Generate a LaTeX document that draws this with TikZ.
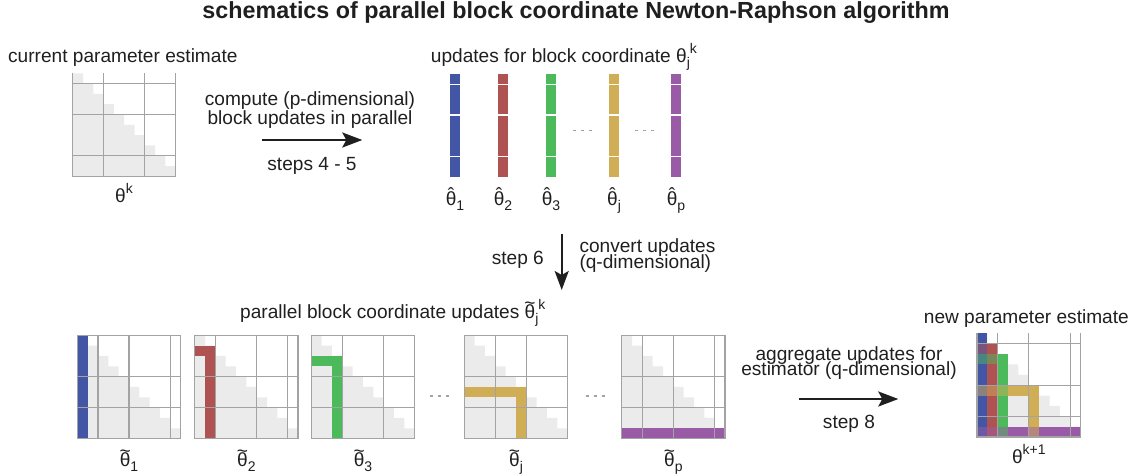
\documentclass[tikz,border=0pt]{standalone}
\usepackage{fontspec}
\setmainfont{Liberation Sans}
\usetikzlibrary{arrows.meta}

\definecolor{ink}{HTML}{1F1F1F}
\definecolor{gridc}{HTML}{A3A3A3}
\definecolor{lowc}{HTML}{EBEBEB}
\definecolor{cblue}{HTML}{4356A6}
\definecolor{cred}{HTML}{AE5252}
\definecolor{cgreen}{HTML}{4CB95B}
\definecolor{cgold}{HTML}{D0AE56}
\definecolor{cpurple}{HTML}{9A5BA6}
\colorlet{mixBR}{cblue!50!cred}
\colorlet{mixBG}{cblue!50!cgreen}
\colorlet{mixRG}{cred!50!cgreen}
\colorlet{mixBY}{cblue!50!cgold}
\colorlet{mixRY}{cred!50!cgold}
\colorlet{mixGY}{cgreen!50!cgold}
\colorlet{mixBP}{cblue!50!cpurple}
\colorlet{mixRP}{cred!50!cpurple}
\colorlet{mixGP}{cgreen!50!cpurple}
\colorlet{mixYP}{cgold!50!cpurple}

% indices and accented thetas
\newcommand\lowidx[1]{\raisebox{-5pt}{\fontsize{14}{14}\selectfont #1}}
\newcommand\upidx[1]{\raisebox{9pt}{\fontsize{14}{14}\selectfont #1}}
\newcommand\thetahat{\ooalign{θ\cr\hidewidth\raisebox{0.17em}{ˆ}\hidewidth\cr}}
\newcommand\thetatilde{\ooalign{θ\cr\hidewidth\raisebox{0.47em}{\textasciitilde}\hidewidth\cr}}
\newcommand\tightlines{\lineskiplimit=-20pt\relax}
% lower-triangular shading of a 10x10 cell matrix
\newcommand\lowertri{\fill[lowc] (0,0) \foreach \r in {1,...,10} { -| (\r,\r) } -- (0,10) -- cycle;}

\tikzset{
  gridline/.style={draw=gridc, line width=1.2pt},
  sepline/.style={draw=white, line width=1.2pt},
  lbl/.style={font=\fontsize{19.1}{21}\selectfont, text=ink, inner sep=0pt},
  flow/.style={draw=ink, line width=2.2pt, -{Stealth[length=20pt, width=15pt, inset=4pt]}},
  ellip/.style={draw=gridc, line width=1.3pt, dash pattern=on 3pt off 5pt},
  cellsys/.style={x=#1pt, y=-#1pt},
}

\begin{document}
\begin{tikzpicture}[x=1pt, y=-1pt]
\useasboundingbox (0,0) rectangle (1134,475);

% title
\node[lbl, font=\fontsize{23.3}{26}\selectfont\bfseries, anchor=base] (title) at (576,18.5)
  {schematics of parallel block coordinate Newton-Raphson algorithm};

% ---------- current estimate ----------
\node[lbl, anchor=base west] (curlbl) at (8,62.7) {current parameter estimate};
\begin{scope}[shift={(72.7,73.3)}, cellsys=10.3]
  \lowertri
  \draw[gridline] (0,0) -- (0,10) -- (10,10) -- (10,0);
  \foreach \v in {3,7} \draw[gridline] (\v,0) -- (\v,10);
  \foreach \h in {1,4,8} \draw[gridline] (0,\h) -- (10,\h);
\end{scope}
\node[lbl, anchor=base] (thk) at (124,202) {θ\upidx{k}};

% ---------- step 4-5 arrow ----------
\node[lbl, align=center, font=\fontsize{19.1}{19}\selectfont\tightlines] (computelbl) at (310,110)
  {compute (p-dimensional)\\block updates in parallel};
\coordinate (a1s) at (262.3,140);
\coordinate (a1e) at (362.3,140);
\draw[flow] (a1s) -- (a1e);
\node[lbl, anchor=base] (steps45) at (312,170) {steps 4 - 5};

% ---------- block updates ----------
\node[lbl, anchor=base west] (updlbl) at (430.7,62.7)
  {updates for block coordinate θ\lowidx{j}\upidx{k}};
\foreach \xc/\col/\idx [count=\i] in {450/cblue/1, 498/cred/2, 546/cgreen/3, 609/cgold/j, 671/cpurple/p} {
  \fill[\col] (\xc,74) rectangle (\xc+10,176.7);
  \foreach \h in {1,4,8} \draw[sepline] (\xc,74+10.27*\h) -- (\xc+10,74+10.27*\h);
  \node[lbl, anchor=base] (hat\i) at (\xc+5,205) {\thetahat\lowidx{\idx}};
}
\draw[ellip] (573,130.7) -- (593,130.7);
\draw[ellip] (635,130.7) -- (655,130.7);

% ---------- step 6 arrow ----------
\coordinate (a2s) at (561.7,234.3);
\coordinate (a2e) at (561.7,290);
\draw[flow, line width=2pt, -{Stealth[length=19pt, width=14pt, inset=4pt]}] (a2s) -- (a2e);
\node[lbl, anchor=base east] (step6) at (544,264.3) {step 6};
\node[lbl, anchor=west, align=left, font=\fontsize{19.1}{16}\selectfont\tightlines] (convlbl) at (579.3,256)
  {convert updates\\(q-dimensional)};

% ---------- block coordinate updates ----------
\node[lbl, anchor=base west] (parlbl) at (240,318)
  {parallel block coordinate updates \thetatilde\lowidx{j}\upidx{k}};

% tilde 1
\begin{scope}[shift={(77.3,335.3)}, cellsys=10.33]
  \lowertri
  \fill[cblue] (0,0) rectangle (1,10);
  \draw[gridline] (0,0) rectangle (10,10);
  \foreach \v in {2,5,9} \draw[gridline] (\v,0) -- (\v,10);
  \foreach \h in {4,7} \draw[gridline] (0,\h) -- (10,\h);
\end{scope}
% tilde 2
\begin{scope}[shift={(194.7,335.3)}, cellsys=10.33]
  \lowertri
  \fill[cred] (0,1) rectangle (2,2);
  \fill[cred] (1,1) rectangle (2,10);
  \draw[gridline] (0,0) rectangle (10,10);
  \foreach \v in {2,6,9} \draw[gridline] (\v,0) -- (\v,10);
  \foreach \h in {4,7} \draw[gridline] (0,\h) -- (10,\h);
\end{scope}
% tilde 3
\begin{scope}[shift={(311.3,335.3)}, cellsys=10.33]
  \lowertri
  \fill[cgreen] (0,2) rectangle (3,3);
  \fill[cgreen] (2,2) rectangle (3,10);
  \draw[gridline] (0,0) rectangle (10,10);
  \foreach \v in {3,7} \draw[gridline] (\v,0) -- (\v,10);
  \foreach \h in {4,7} \draw[gridline] (0,\h) -- (10,\h);
\end{scope}
% tilde j
\begin{scope}[shift={(464.3,335.3)}, cellsys=10.33]
  \lowertri
  \fill[cgold] (0,5) rectangle (6,6);
  \fill[cgold] (5,5) rectangle (6,10);
  \draw[gridline] (0,0) rectangle (10,10);
  \foreach \v in {3,6} \draw[gridline] (\v,0) -- (\v,10);
  \foreach \h in {4,7} \draw[gridline] (0,\h) -- (10,\h);
\end{scope}
% tilde p
\begin{scope}[shift={(621.7,335.3)}, cellsys=10.33]
  \lowertri
  \fill[cpurple] (0,9) rectangle (10,10);
  \draw[gridline] (0,0) rectangle (10,10);
  \foreach \v in {2,5,9} \draw[gridline] (\v,0) -- (\v,10);
  \foreach \h in {4,7} \draw[gridline] (0,\h) -- (10,\h);
\end{scope}
\draw[ellip] (430,396) -- (450,396);
\draw[ellip] (586,396) -- (606,396);

\foreach \xc/\idx [count=\i] in {129/1, 246.4/2, 363/3, 516/j, 673.4/p}
  \node[lbl, anchor=base] (til\i) at (\xc,466) {\thetatilde\lowidx{\idx}};

% ---------- step 8 arrow ----------
\node[lbl, align=center, font=\fontsize{19.1}{15.5}\selectfont\tightlines] (agglbl) at (849,363)
  {aggregate updates for\\estimator (q-dimensional)};
\coordinate (a3s) at (799,399);
\coordinate (a3e) at (898.3,399);
\draw[flow] (a3s) -- (a3e);
\node[lbl, anchor=base] (step8) at (849,428.3) {step 8};

% ---------- new estimate ----------
\node[lbl, anchor=base east] (newlbl) at (1129,323.3) {new parameter estimate};
\begin{scope}[shift={(977,333.3)}, cellsys=10.37]
  \lowertri
  \fill[cblue] (0,0) rectangle (1,10);
  \fill[cred] (1,1) rectangle (2,10);
  \fill[cgreen] (2,2) rectangle (3,10);
  \fill[cgold] (0,5) rectangle (6,6);
  \fill[cgold] (5,5) rectangle (6,10);
  \fill[cpurple] (0,9) rectangle (10,10);
  \foreach \cx/\cy/\mc in {0/1/mixBR, 0/2/mixBG, 1/2/mixRG, 0/5/mixBY, 1/5/mixRY, 2/5/mixGY,
                          0/9/mixBP, 1/9/mixRP, 2/9/mixGP, 5/9/mixYP}
    \fill[\mc] (\cx,\cy) rectangle (\cx+1,\cy+1);
  \draw[gridline] (0,0) -- (0,10) -- (10,10) -- (10,0);
  \foreach \v in {2,5,9} \draw[gridline] (\v,0) -- (\v,10);
  \foreach \h in {1,5,8} \draw[gridline] (0,\h) -- (10,\h);
\end{scope}
\node[lbl, anchor=base] (thk1) at (1028.8,463) {θ\upidx{k+1}};

\end{tikzpicture}
\end{document}
